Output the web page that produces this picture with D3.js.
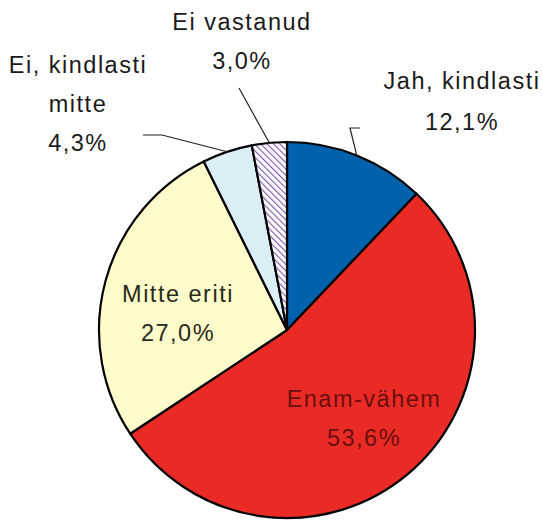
<!DOCTYPE html>
<html><head><meta charset="utf-8">
<script src="https://cdn.jsdelivr.net/npm/d3@7"></script>
<style>body{margin:0;background:#fff}svg{display:block}</style>
</head><body>
<svg id="c" width="543" height="522"></svg>
<script>
const categories = ["Jah, kindlasti", "Enam-vähem", "Mitte eriti", "Ei, kindlasti mitte", "Ei vastanud"];
const values = [12.1, 53.6, 27.0, 4.3, 3.0];
const valueLabels = ["12,1%", "53,6%", "27,0%", "4,3%", "3,0%"];
const colors = ["#0062ad", "#ea2a24", "#fffbcb", "#dbeef5", "url(#hatch)"];

const svg = d3.select("#c");
const cx = 287, cy = 330, r = 188;
const defs = svg.append("defs");
const pat = defs.append("pattern").attr("id","hatch").attr("patternUnits","userSpaceOnUse")
  .attr("width",4.5).attr("height",4.5).attr("patternTransform","rotate(-45)");
pat.append("rect").attr("width",4.5).attr("height",4.5).attr("fill","#fff");
pat.append("line").attr("x1",0).attr("y1",0).attr("x2",0).attr("y2",4.5)
  .attr("stroke","#8252ad").attr("stroke-width",2.2);

const pie = d3.pie().sort(null).value(d=>d);
const arcs = pie(values);
const arc = d3.arc().innerRadius(0).outerRadius(r);
const g = svg.append("g").attr("transform",`translate(${cx},${cy})`);
g.selectAll("path").data(arcs).join("path")
  .attr("d",arc).attr("fill",(d,i)=>colors[i])
  .attr("stroke","#000").attr("stroke-width",2.2).attr("stroke-linejoin","round");

const font = "'Liberation Sans', Arial, sans-serif";
function label(lines, x, y0, fill, gap){
  const t = svg.append("text").attr("text-anchor","middle").attr("font-family",font)
    .attr("font-size",23.5).attr("fill",fill||"#1a1a1a").attr("letter-spacing","1.5px");
  lines.forEach((s,k)=>t.append("tspan").attr("x",x).attr("y",y0+k*(gap||39)).text(s));
}
// inside labels
label(["Mitte eriti", valueLabels[2]], 178, 302, "#2a2a1a");
label(["Enam-vähem", valueLabels[1]], 364, 407, "#6a0f0f");
// outside labels
label(["Ei vastanud", valueLabels[4]], 242, 30);
label(["Ei, kindlasti", "mitte", valueLabels[3]], 78, 73);
label(["Jah, kindlasti", valueLabels[0]], 462, 89, null, 41);

// leader lines: anchored on arc edge via angles
function edge(i, frac){
  const a = arcs[i].startAngle + (arcs[i].endAngle-arcs[i].startAngle)*frac;
  return [cx + r*Math.sin(a), cy - r*Math.cos(a)];
}
const line = d3.line();
const leaders = [
  [edge(0,0.5), [350,128], [360,128]],
  [edge(4,0.5), [239,88]],
  [edge(3,0.5), [162,135], [143,135]]
];
svg.selectAll("path.leader").data(leaders).join("path").attr("class","leader")
  .attr("d",d=>line(d)).attr("fill","none").attr("stroke","#222").attr("stroke-width",1.2);
</script>
</body></html>
